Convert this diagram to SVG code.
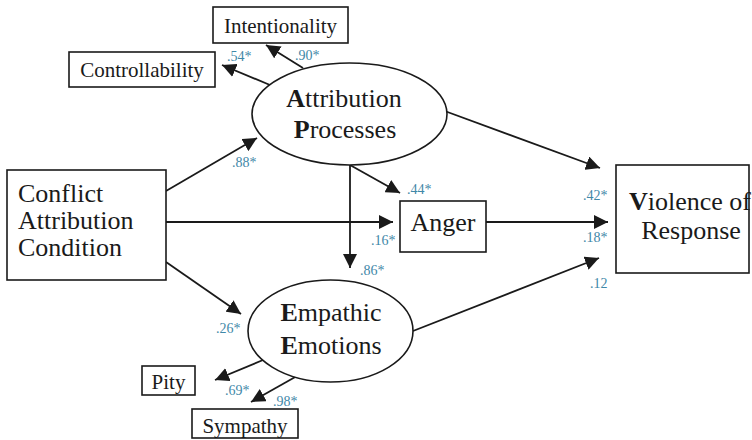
<svg xmlns="http://www.w3.org/2000/svg" width="752" height="440" viewBox="0 0 752 440">
<defs>
<marker id="arr" viewBox="0 0 14 14" refX="14" refY="7" markerWidth="14" markerHeight="14" markerUnits="userSpaceOnUse" orient="auto">
<path d="M0,0 L14,7 L0,14 z" fill="#1a1a1a"/>
</marker>
<style>
.box{fill:#fff;stroke:#1a1a1a;stroke-width:1.6}
.c{fill:none;stroke:#1a1a1a;stroke-width:1.8;marker-end:url(#arr)}
</style>
</defs>
<rect width="752" height="440" fill="#fff"/>
<g id="connectors">
<line class="c" x1="303" y1="68" x2="266" y2="45"/>
<line class="c" x1="270" y1="85" x2="222" y2="65"/>
<line class="c" x1="166" y1="191" x2="257" y2="138"/>
<line class="c" x1="166" y1="222" x2="393" y2="222"/>
<line class="c" x1="166" y1="262" x2="241" y2="314"/>
<line class="c" x1="350" y1="165" x2="350" y2="268"/>
<line class="c" x1="350" y1="165" x2="400" y2="193"/>
<line class="c" x1="442" y1="110" x2="600" y2="168"/>
<line class="c" x1="486" y1="222" x2="608" y2="222"/>
<line class="c" x1="413" y1="331" x2="599" y2="258"/>
<line class="c" x1="263" y1="360" x2="215" y2="380"/>
<line class="c" x1="297" y1="376" x2="251" y2="402"/>
</g>
<g font-family="Liberation Serif" fill="#1a1a1a">
<g id="intentionality">
<rect class="box" x="213" y="7" width="135" height="36"/>
<text x="280.5" y="33" font-size="21" text-anchor="middle" font-family="Liberation Serif">Intentionality</text>
</g>
<g id="controllability">
<rect class="box" x="69" y="52" width="146" height="35"/>
<text x="142" y="77" font-size="21" text-anchor="middle" font-family="Liberation Serif">Controllability</text>
</g>
<g id="attribution">
<ellipse cx="349.5" cy="114" rx="97.5" ry="51" fill="#fff" stroke="#1a1a1a" stroke-width="1.6"/>
<text x="344" y="107" font-size="26" text-anchor="middle" font-family="Liberation Serif"><tspan font-weight="bold">A</tspan>ttribution</text>
<text x="345" y="138" font-size="26" text-anchor="middle" font-family="Liberation Serif"><tspan font-weight="bold">P</tspan>rocesses</text>
</g>
<g id="conflict">
<rect class="box" x="7" y="170" width="159" height="110"/>
<text x="18" y="202" font-size="26" font-family="Liberation Serif">Conflict</text>
<text x="18" y="229" font-size="26" font-family="Liberation Serif">Attribution</text>
<text x="18" y="256" font-size="26" font-family="Liberation Serif">Condition</text>
</g>
<g id="anger">
<rect class="box" x="400" y="201" width="86" height="51"/>
<text x="443" y="231" font-size="26" text-anchor="middle" font-family="Liberation Serif">Anger</text>
</g>
<g id="violence">
<rect class="box" x="616" y="165" width="133" height="108"/>
<text x="690" y="210" font-size="26" text-anchor="middle" font-family="Liberation Serif"><tspan font-weight="bold">V</tspan>iolence of</text>
<text x="691" y="239" font-size="26" text-anchor="middle" font-family="Liberation Serif">Response</text>
</g>
<g id="empathic">
<ellipse cx="330.5" cy="331" rx="82.5" ry="51" fill="#fff" stroke="#1a1a1a" stroke-width="1.6"/>
<text x="331" y="321" font-size="26" text-anchor="middle" font-family="Liberation Serif"><tspan font-weight="bold">E</tspan>mpathic</text>
<text x="331" y="354" font-size="26" text-anchor="middle" font-family="Liberation Serif"><tspan font-weight="bold">E</tspan>motions</text>
</g>
<g id="pity">
<rect class="box" x="142" y="366" width="53" height="29"/>
<text x="168.5" y="389" font-size="21" text-anchor="middle" font-family="Liberation Serif">Pity</text>
</g>
<g id="sympathy">
<rect class="box" x="192" y="409" width="106" height="29"/>
<text x="245" y="433" font-size="21" text-anchor="middle" font-family="Liberation Serif">Sympathy</text>
</g>
</g>
<g id="labels" font-family="Liberation Serif" font-size="14" fill="#3f88a8">
<text x="227" y="61" font-family="Liberation Serif">.54*</text>
<text x="295" y="60" font-family="Liberation Serif">.90*</text>
<text x="232" y="167" font-family="Liberation Serif">.88*</text>
<text x="407" y="194" font-family="Liberation Serif">.44*</text>
<text x="371" y="245" font-family="Liberation Serif">.16*</text>
<text x="360" y="275" font-family="Liberation Serif">.86*</text>
<text x="583" y="200" font-family="Liberation Serif">.42*</text>
<text x="583" y="242" font-family="Liberation Serif">.18*</text>
<text x="590" y="288" font-family="Liberation Serif">.12</text>
<text x="216" y="333" font-family="Liberation Serif">.26*</text>
<text x="225" y="395" font-family="Liberation Serif">.69*</text>
<text x="273" y="406" font-family="Liberation Serif">.98*</text>
</g>
</svg>
